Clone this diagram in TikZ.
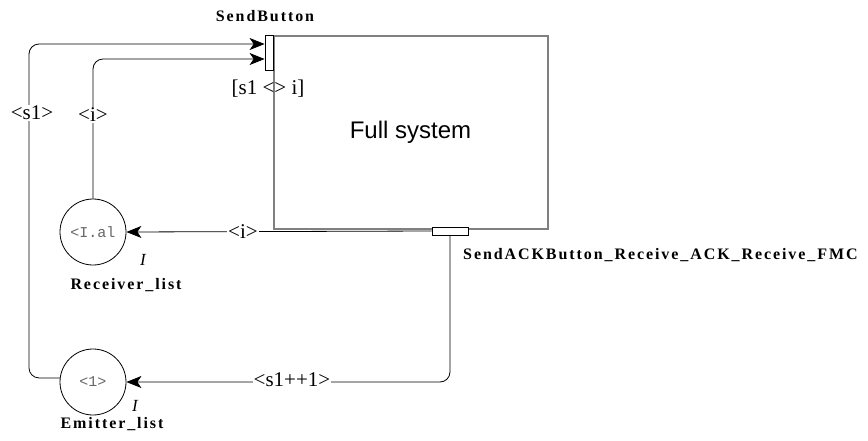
\documentclass[tikz,border=0pt]{standalone}
\usepackage{fontspec}
\setmainfont{Liberation Serif}
\newfontfamily\sysfont{Liberation Sans}
\newfontfamily\tokfont{Liberation Mono}
\newfontfamily\tagfont[LetterSpace=12]{Liberation Serif}
\usetikzlibrary{arrows.meta}

\tikzset{
  sysbox/.style={draw=black!50, line width=2pt, fill=white,
    font=\sysfont\fontsize{24}{28}\selectfont},
  portbox/.style={draw=black, line width=0.8pt, fill=white, inner sep=0pt},
  place/.style={draw=black, line width=0.8pt, circle, minimum size=66pt, inner sep=0pt,
    font=\tokfont\fontsize{15}{17}\selectfont, text=black!60},
  flow/.style={draw=black, line width=0.8pt, rounded corners=10pt,
    -{Stealth[length=15pt, width=12pt, inset=4pt]}},
  arclbl/.style={fill=white, inner sep=1pt, font=\fontsize{21}{23}\selectfont},
  tag/.style={inner sep=0pt, font=\tagfont\bfseries\fontsize{16}{18}\selectfont},
  mult/.style={inner sep=0pt, font=\itshape\fontsize{17}{19}\selectfont}
}

\begin{document}
\begin{tikzpicture}[x=1pt, y=-1pt]

  \useasboundingbox (0,0) rectangle (868,440);

  % ============================================================
  % Module and its two ports
  % ============================================================
  \node[sysbox, minimum width=274pt, minimum height=193pt] (fullsys) at (410.5,132.5) {Full system};

  \node[portbox, minimum width=8pt, minimum height=35pt] (sendbtn) at (269,52.5) {};
  \node[portbox, minimum width=36pt, minimum height=8pt] (sendack) at (450,231) {};

  \node[tag] (sendbtnlbl) at (265,16) {SendButton};
  \node[tag, anchor=west] (sendacklbl) at (463,255) {SendACKButton\_Receive\_ACK\_Receive\_FMC};
  \node[arclbl, fill=none] (guard) at (268,89) {[s1 <> i]};

  % ============================================================
  % Places
  % ============================================================
  \node[place] (recv) at (93,232) {<I.al};
  \node[place] (emit) at (93,382) {<1>};

  \node[mult] (recvmult) at (143,260) {I};
  \node[mult] (emitmult) at (135,406) {I};
  \node[tag] (recvlbl) at (126,285) {Receiver\_list};
  \node[tag] (emitlbl) at (112,424) {Emitter\_list};

  % ============================================================
  % Arcs
  % ============================================================
  \coordinate (s1turn) at (29,44);
  \coordinate (iturn) at (93,59);

  % places -> SendButton
  \draw[flow] (emit.173) -| (s1turn) -- (sendbtn.west |- s1turn);
  \draw[flow] (recv.north) -- (iturn) -- (sendbtn.west |- iturn);

  % SendACK port -> places
  \draw[flow] (sendack.west) -- (recv.east);
  \draw[flow] (sendack.south) |- (emit.east);

  \node[arclbl] (s1lbl) at (32,113) {<s1>};
  \node[arclbl] (ilbl) at (93,115) {<i>};
  \node[arclbl] (iretlbl) at (243,232) {<i>};
  \node[arclbl] (s1inclbl) at (292,380) {<s1++1>};

\end{tikzpicture}
\end{document}
